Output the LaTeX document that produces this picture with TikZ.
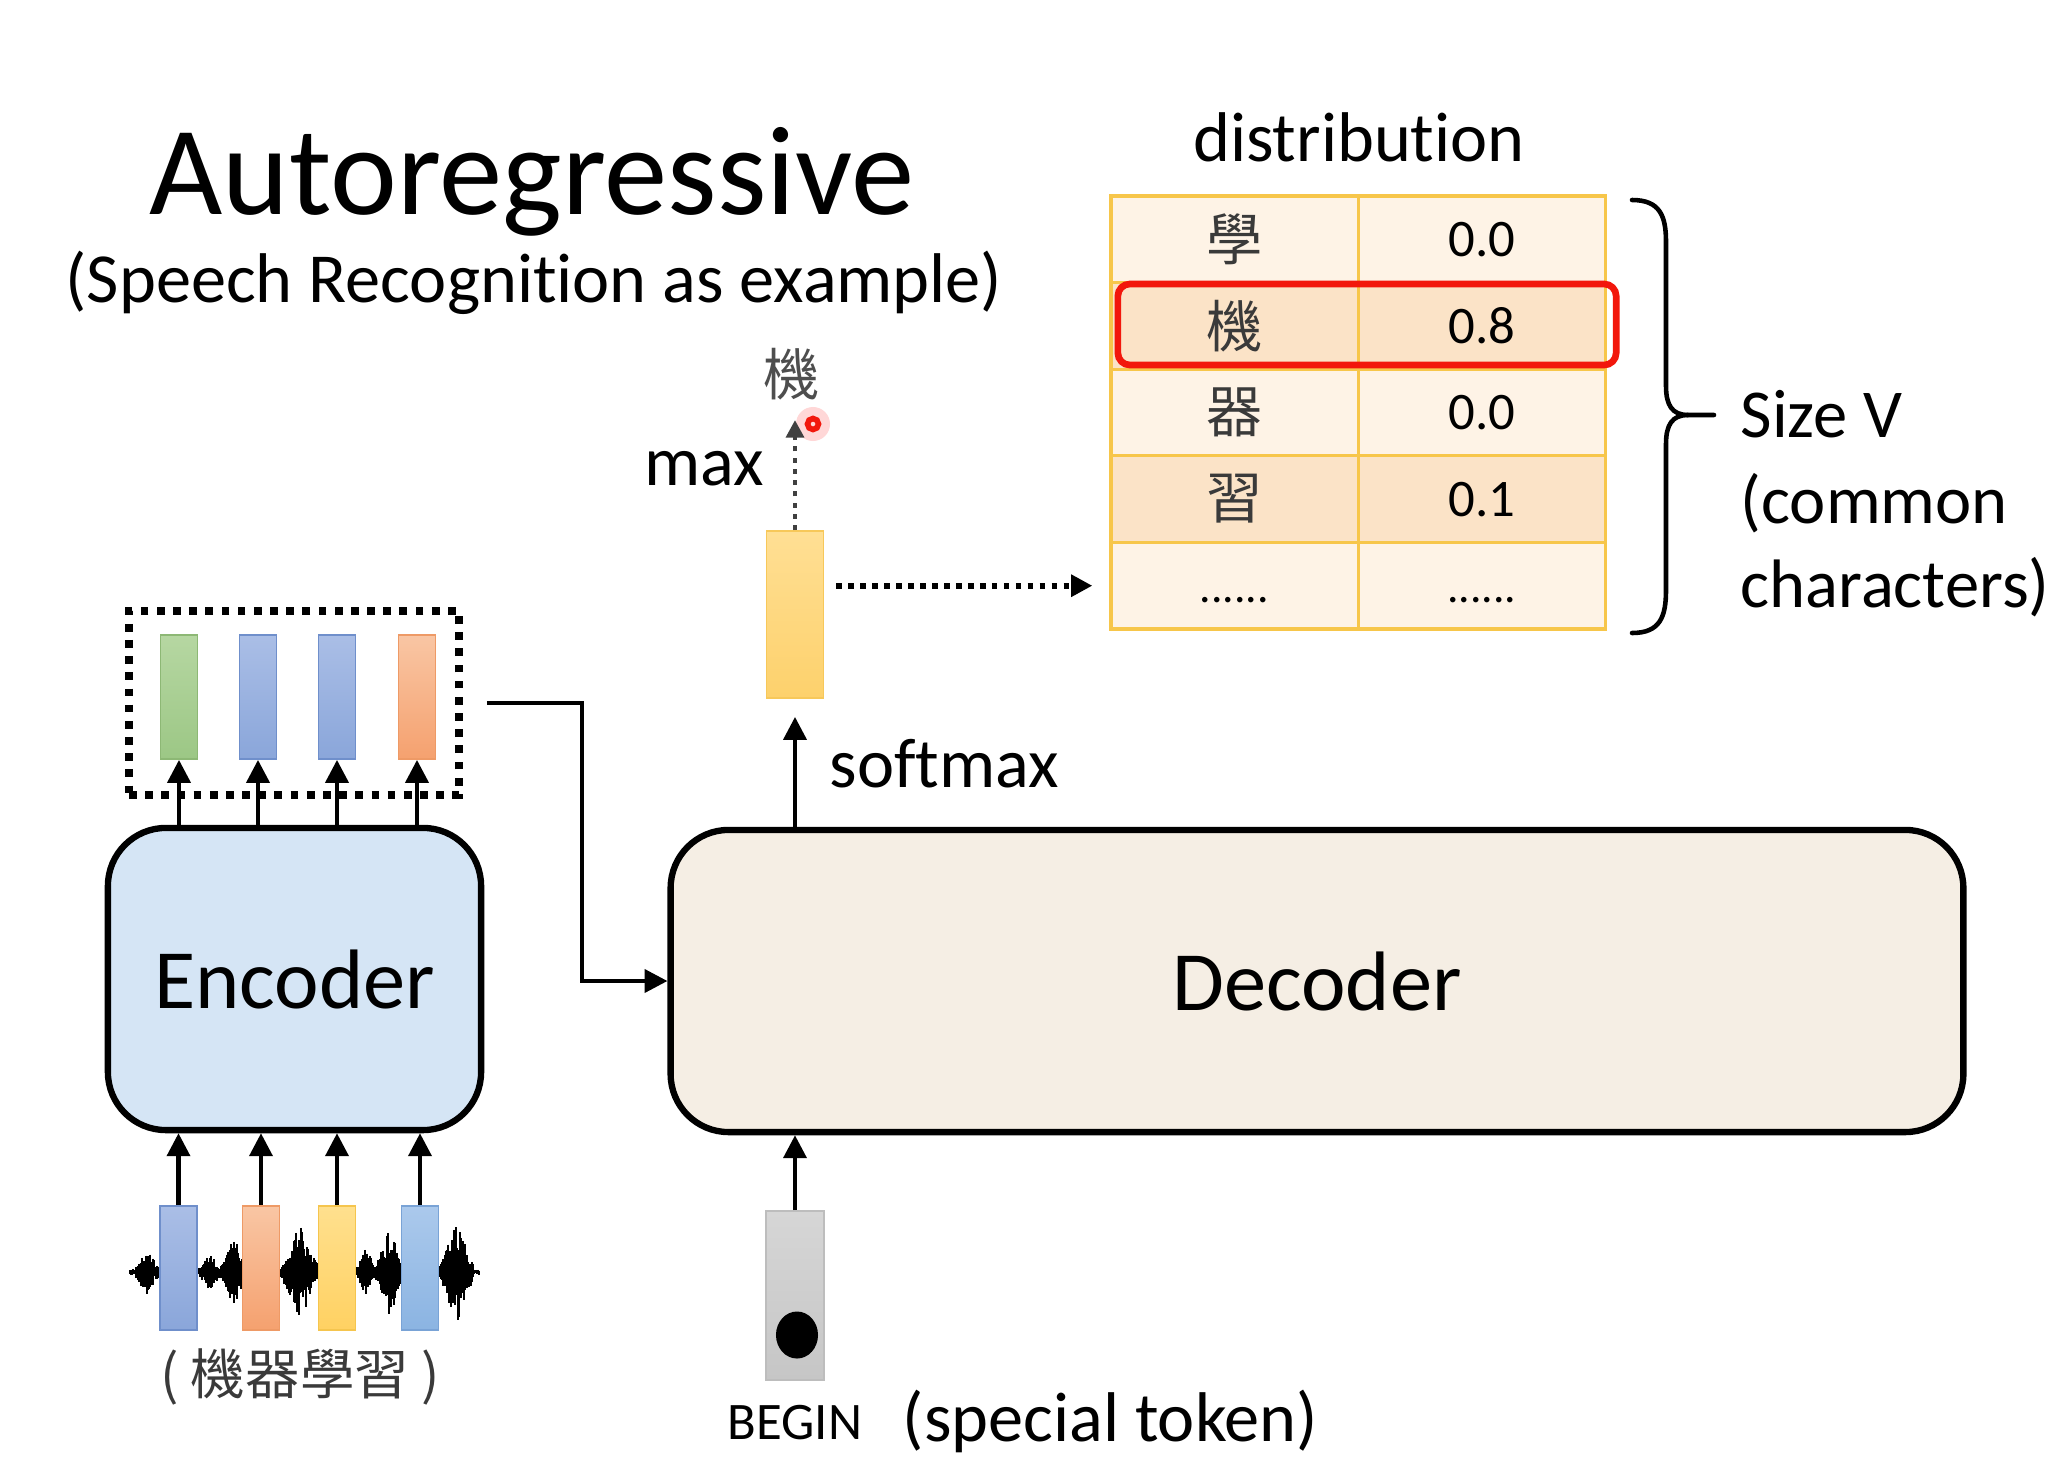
\documentclass[tikz,border=0pt]{standalone}
\usepackage{fontspec}
\setmainfont{Carlito}[Ligatures=NoCommon]
\newfontfamily\cjk{Noto Sans CJK TC}
\usetikzlibrary{arrows.meta}
\definecolor{encfill}{HTML}{D5E5F5}
\definecolor{decfill}{HTML}{F5EEE4}
\definecolor{tgold}{HTML}{F7C64A}
\definecolor{tlight}{HTML}{FEF3E6}
\definecolor{tdark}{HTML}{FBE3C7}
\definecolor{hlred}{HTML}{F2170C}
\definecolor{cjkgray}{HTML}{3A3A3A}
\definecolor{gtop}{HTML}{B6D7A2}\definecolor{gbot}{HTML}{9CC785}\definecolor{gline}{HTML}{8DB875}
\definecolor{btop}{HTML}{AABEE6}\definecolor{bbot}{HTML}{8AA6DA}\definecolor{bline}{HTML}{6F8FCB}
\definecolor{otop}{HTML}{F9C6A4}\definecolor{obot}{HTML}{F5A16F}\definecolor{oline}{HTML}{EE9A66}
\definecolor{ytop}{HTML}{FFE08E}\definecolor{ybot}{HTML}{FFD162}\definecolor{yline}{HTML}{F5C54E}
\definecolor{ltop}{HTML}{ABC9EC}\definecolor{lbot}{HTML}{8BB4E2}\definecolor{lline}{HTML}{79A3D6}
\definecolor{stop}{HTML}{FFDF94}\definecolor{sbot}{HTML}{FDD16C}\definecolor{sline}{HTML}{F7C85A}
\definecolor{gytop}{HTML}{D6D6D6}\definecolor{gybot}{HTML}{C6C6C6}\definecolor{gyline}{HTML}{BDBDBD}
\begin{document}
\begin{tikzpicture}[x=0.01cm,y=-0.01cm,
  arr/.style={line width=1.15pt,-{Triangle[length=6.5pt,width=6.5pt]}},
  box/.style={draw,line width=1.8pt,rounded corners=0.58cm,minimum height=3.02cm,inner sep=0pt},
  vec/.style={draw,line width=0.5pt,inner sep=0pt,minimum width=0.37cm,minimum height=1.24cm},
  gvec/.style={vec,draw=gline,top color=gtop,bottom color=gbot},
  bvec/.style={vec,draw=bline,top color=btop,bottom color=bbot},
  ovec/.style={vec,draw=oline,top color=otop,bottom color=obot},
  yvec/.style={vec,draw=yline,top color=ytop,bottom color=ybot},
  lvec/.style={vec,draw=lline,top color=ltop,bottom color=lbot},
  cell/.style={draw=tgold,line width=0.9pt,minimum width=2.47cm,minimum height=0.866cm,inner sep=0pt},
  lt/.style={cell,fill=tlight},
  dk/.style={cell,fill=tdark},
  txt/.style={inner sep=0pt},
  chr/.style={txt,font=\fontsize{16}{19}\selectfont\cjk,text=cjkgray},
  num/.style={txt,font=\fontsize{15}{18}\selectfont},
  lbl/.style={txt,font=\fontsize{20}{24}\selectfont},
  side/.style={txt,font=\fontsize{19.5}{23}\selectfont,anchor=base west},
  dotarr/.style={line width=1.6pt,dash pattern=on 1.6pt off 1.8pt,-{Triangle[length=6pt,width=6pt]}}
]
\useasboundingbox (0,0) rectangle (2060,1463);

% titles
\node[txt,anchor=base,font=\fontsize{36}{43}\selectfont] (title) at (532,214) {Autoregressive};
\node[txt,anchor=base,font=\fontsize{20}{24}\selectfont] (subtitle) at (534,302) {(Speech Recognition as example)};

% distribution table
\node[lbl] (dist) at (1359,137) {distribution};
\node[lt] (r1a) at (1234.5,239.3) {}; \node[lt] (r1b) at (1482,239.3) {};
\node[dk] (r2a) at (1234.5,325.9) {}; \node[dk] (r2b) at (1482,325.9) {};
\node[lt] (r3a) at (1234.5,412.5) {}; \node[lt] (r3b) at (1482,412.5) {};
\node[dk] (r4a) at (1234.5,499.1) {}; \node[dk] (r4b) at (1482,499.1) {};
\node[lt] (r5a) at (1234.5,585.7) {}; \node[lt] (r5b) at (1482,585.7) {};
\node[chr] at (r1a) {學}; \node[num] at (r1b) {0.0};
\node[chr] at (r2a) {機}; \node[num] at (r2b) {0.8};
\node[chr] at (r3a) {器}; \node[num] at (r3b) {0.0};
\node[chr] at (r4a) {習}; \node[num] at (r4b) {0.1};
\node[txt,anchor=base,font=\fontsize{13}{15}\selectfont] at (1234.5,602) {......};
\node[txt,anchor=base,font=\fontsize{13}{15}\selectfont] at (1482,602) {......};
\node[draw=hlred,line width=1.9pt,rounded corners=0.12cm,minimum width=4.98cm,minimum height=0.81cm,inner sep=0pt] (hl) at (1367,324.5) {};

% brace
\draw[line width=1.3pt,line cap=round]
  (1632,200) .. controls (1660,200) and (1666,216) .. (1666,242) -- (1666,386)
  .. controls (1666,405) and (1672,415) .. (1688,415) -- (1714,415);
\draw[line width=1.3pt,line cap=round]
  (1688,415) .. controls (1672,415) and (1666,425) .. (1666,444) -- (1666,590)
  .. controls (1666,617) and (1660,633) .. (1632,633);
\node[side] (sizev) at (1740,437) {Size V};
\node[side] (common) at (1740,523) {(common};
\node[side] (chars) at (1740,607) {characters)};

% softmax output vector
\node[draw=sline,line width=0.5pt,top color=stop,bottom color=sbot,minimum width=0.57cm,minimum height=1.67cm,inner sep=0pt] (sm) at (795,614.5) {};
\node[chr,text=cjkgray!90] (ji) at (792,374) {機};
\coordinate (jtip) at (795,420);
\fill[red!35,opacity=0.45] (813,424) circle (0.17cm);
\draw[line width=1.4pt,dash pattern=on 1.4pt off 1.8pt,-{Triangle[length=5pt,width=5pt]},black!75] (sm.north) -- (jtip);
\draw[hlred,line width=1.6pt] (813,424) circle (0.055cm);
\node[lbl,anchor=east] (maxl) at (765,469) {max};
\path (sm.east) ++(12,0) coordinate (dstart);
\draw[dotarr] (dstart |- r5a.west) -- ([xshift=-0.17cm]r5a.west);

% decoder
\node[box,fill=decfill,minimum width=12.92cm,font=\fontsize{24}{29}\selectfont] (dec) at (1317,981) {Decoder};
\draw[arr] (dec.north -| sm) -- ([yshift=-0.18cm]sm.south);
\node[lbl,anchor=west] (softmax) at (829,764) {softmax};

% BEGIN token
\node[draw=gyline,line width=0.5pt,top color=gytop,bottom color=gybot,minimum width=0.58cm,minimum height=1.69cm,inner sep=0pt] (begin) at (795,1295.5) {};
\fill (797,1335) ellipse [x radius=0.21cm, y radius=0.235cm];
\draw[arr] (begin.north) -- (begin.north |- dec.south);
\node[txt,anchor=base,font=\fontsize{15}{18}\selectfont] (beginl) at (795,1439) {BEGIN};
\node[lbl,anchor=base west] (special) at (902,1441) {(special token)};

% encoder
\node[box,fill=encfill,minimum width=3.73cm,font=\fontsize{24}{29}\selectfont] (enc) at (294.5,979) {Encoder};

% encoder outputs
\node[draw,line width=2.2pt,dash pattern=on 2.2pt off 2.4pt,minimum width=3.30cm,minimum height=1.84cm,inner sep=0pt] (mem) at (294,703) {};
\node[gvec] (o1) at (179,697) {};
\node[bvec] (o2) at (258,697) {};
\node[bvec] (o3) at (337,697) {};
\node[ovec] (o4) at (417,697) {};
\foreach \k in {1,2,3,4} \draw[arr] (enc.north -| o\k) -- (o\k.south);
\path (mem.east) ++(24,0) coordinate (mstart);
\draw[arr,line width=1.2pt] (mstart) -- ++(95,0) |- (dec.west);

% waveform
\pgfmathsetseed{12}
\draw[line width=0.6pt] (129,1272) -- (480,1272);
\foreach \x in {130,131,...,479} {
  \pgfmathsetmacro\a{3+20*max(0,1-abs(\x-147)/13)+16*max(0,1-abs(\x-210)/12)+32*max(0,1-abs(\x-234)/14)+46*max(0,1-abs(\x-300)/20)+22*max(0,1-abs(\x-366)/10)+42*max(0,1-abs(\x-390)/16)+50*max(0,1-abs(\x-457)/18)}
  \pgfmathsetmacro\u{\a*(0.35+0.65*rnd)}
  \pgfmathsetmacro\d{\a*(0.35+0.65*rnd)}
  \draw[line width=0.55pt] (\x,1272-\u) -- (\x,1272+\d);
}
\node[bvec] (i1) at (178.5,1268) {};
\node[ovec] (i2) at (261,1268) {};
\node[yvec] (i3) at (337,1268) {};
\node[lvec] (i4) at (420,1268) {};
\foreach \k in {1,2,3,4} \draw[arr] (i\k.north) -- (i\k.north |- enc.south);
\node[txt,font=\fontsize{15.5}{19}\selectfont\cjk,text=cjkgray] (input) at (300,1377) {( 機器學習 )};
\end{tikzpicture}
\end{document}
